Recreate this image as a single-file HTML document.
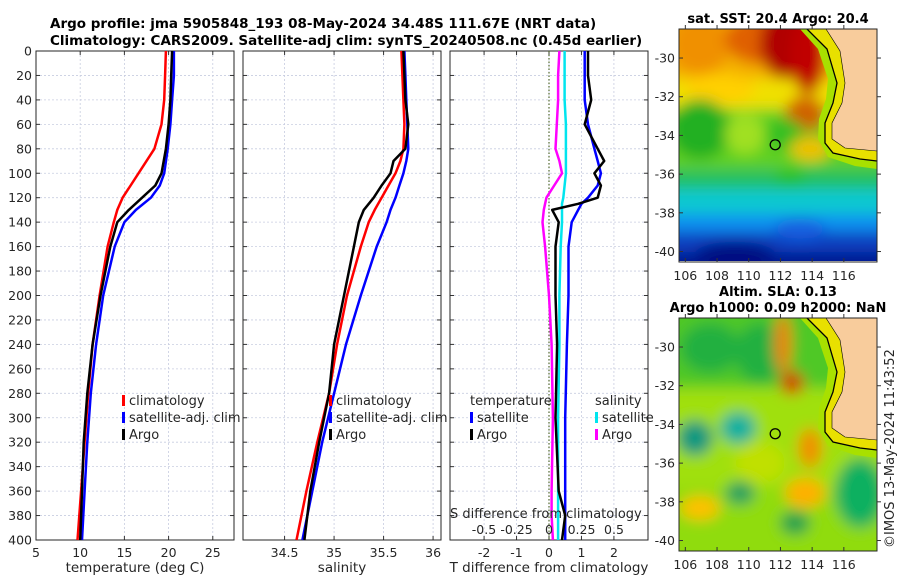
<!DOCTYPE html>
<html><head><meta charset="utf-8">
<style>
body{margin:0;background:#fff;font-family:"DejaVu Sans","Liberation Sans",sans-serif;}
svg{display:block}
text{font-family:"DejaVu Sans","Liberation Sans",sans-serif;fill:#262626}
</style></head>
<body>
<svg id="fig" width="900" height="580" viewBox="0 0 900 580">
<defs>
 <filter id="blur" x="-20%" y="-20%" width="140%" height="140%"><feGaussianBlur stdDeviation="7"/></filter>
 <clipPath id="c1"><rect x="679" y="29" width="198" height="232"/></clipPath>
 <clipPath id="c2"><rect x="679" y="318" width="198" height="233"/></clipPath>
</defs>
<text x="50" y="28" font-size="13.5" font-weight="bold" style="fill:#000">Argo profile: jma 5905848_193 08-May-2024 34.48S 111.67E (NRT data)</text>
<text x="50" y="45" font-size="13.5" font-weight="bold" style="fill:#000">Climatology: CARS2009. Satellite-adj clim: synTS_20240508.nc (0.45d earlier)</text>
<g id="panels"></g>
<g id="maps"></g>
<text transform="translate(894,548) rotate(-90)" font-size="13">©IMOS 13-May-2024 11:43:52</text>
</svg>
<script>
// ---- data (depth in m) ----
const depthsT = [0,20,40,60,80,100,110,120,130,140,160,200,240,280,320,360,400];
const tempClim = [19.7,19.6,19.5,19.2,18.4,16.6,15.7,14.8,14.2,13.8,13.1,12.2,11.4,10.9,10.5,10.1,9.7];
const tempSat  = [20.6,20.6,20.4,20.2,19.9,19.5,19.0,18.0,16.3,15.0,13.9,12.6,11.8,11.2,10.8,10.5,10.2];
const tempArgo = [20.4,20.3,20.2,20.0,19.7,19.2,18.5,17.0,15.5,14.2,13.4,12.3,11.4,10.8,10.4,10.2,10.0];
const depthsS = [0,20,40,60,80,90,100,110,120,130,140,160,200,240,280,320,360,400];
const salClim = [35.68,35.69,35.70,35.71,35.70,35.67,35.62,35.55,35.48,35.41,35.35,35.27,35.13,35.03,34.95,34.83,34.72,34.62];
const salSat  = [35.71,35.72,35.73,35.74,35.75,35.73,35.70,35.66,35.62,35.57,35.53,35.43,35.27,35.12,35.00,34.88,34.78,34.68];
const salArgo = [35.70,35.71,35.72,35.75,35.72,35.60,35.57,35.48,35.40,35.30,35.25,35.20,35.10,35.00,34.95,34.85,34.76,34.70];
const depthsD = [0,20,40,60,80,90,100,110,120,125,130,140,160,200,240,300,360,380,400];
const dTSat  = [1.1,1.1,1.1,1.2,1.4,1.5,1.6,1.5,1.2,1.0,0.9,0.7,0.6,0.6,0.55,0.5,0.5,0.5,0.5];
const dTArgo = [1.2,1.2,1.3,1.1,1.5,1.7,1.4,1.6,1.5,0.9,0.1,0.3,0.2,0.2,0.25,0.2,0.3,0.5,0.4];
const dSSat  = [0.12,0.12,0.12,0.13,0.13,0.13,0.13,0.12,0.11,0.10,0.10,0.10,0.09,0.08,0.08,0.07,0.07,0.07,0.07];
const dSArgo = [0.08,0.07,0.07,0.06,0.05,0.08,0.10,0.04,-0.02,-0.03,-0.04,-0.05,-0.03,0.00,0.02,0.03,0.02,0.02,0.03];
const depthTicks = [0,20,40,60,80,100,120,140,160,180,200,220,240,260,280,300,320,340,360,380,400];
const tTicks = [5,10,15,20,25];
const sTicks = [34.5,35,35.5,36];
const dTTicks = [-2,-1,0,1,2];
const dSTicks = [-0.5,-0.25,0,0.25,0.5];
const dSTickLabels = ['-0.5','-0.25','0','0.25','0.5'];

const NS='http://www.w3.org/2000/svg';
const fig=document.getElementById('panels');
function el(tag,attrs,parent){const e=document.createElementNS(NS,tag);for(const k in attrs)e.setAttribute(k,attrs[k]);(parent||fig).appendChild(e);return e;}
const Y0=51,Y1=540;
const yS=d=>Y0+(Y1-Y0)*d/400;

function panel(name,x0,x1,dmin,dmax,ticks,labels,xlabel,showY){
  const xS=v=>x0+(x1-x0)*(v-dmin)/(dmax-dmin);
  const g=el('g',{});
  
  
  depthTicks.forEach(d=>{const l=el('line',{x1:x0,x2:x1,y1:yS(d),y2:yS(d),stroke:'#c8cde0','stroke-dasharray':'2,2','stroke-width':0.8},g);
    });
  ticks.forEach((t,i)=>{const l=el('line',{x1:xS(t),x2:xS(t),y1:Y0,y2:Y1,stroke:'#c8cde0','stroke-dasharray':'2,2','stroke-width':0.8},g);
    
    el('line',{x1:xS(t),x2:xS(t),y1:Y1,y2:Y1-4,stroke:'#333'},g);
    el('line',{x1:xS(t),x2:xS(t),y1:Y0,y2:Y0+4,stroke:'#333'},g);
    if(labels){const tx=el('text',{x:xS(t),y:Y1+17,'font-size':12.5,'text-anchor':'middle'},g);tx.textContent=labels[i];
      }
  });
  depthTicks.forEach(d=>{el('line',{x1:x0,x2:x0+4,y1:yS(d),y2:yS(d),stroke:'#333'},g);el('line',{x1:x1,x2:x1-4,y1:yS(d),y2:yS(d),stroke:'#333'},g);
    if(showY){const tx=el('text',{x:x0-4,y:yS(d)+4.5,'font-size':12.5,'text-anchor':'end'},g);tx.textContent=d;
      }});
  el('rect',{x:x0,y:Y0,width:x1-x0,height:Y1-Y0,fill:'none',stroke:'#262626','stroke-width':1},g);
  if(xlabel){const tx=el('text',{x:(x0+x1)/2,y:572,'font-size':13.5,'text-anchor':'middle'},g);tx.textContent=xlabel;
    }
  return {g,xS};
}
function line(g,xS,vals,depths,color,name,w){
  const pts=vals.map((v,i)=>xS(v).toFixed(1)+','+yS(depths[i]).toFixed(1)).join(' ');
  const p=el('polyline',{points:pts,fill:'none',stroke:color,'stroke-width':w||2.5,'stroke-linejoin':'round'},g);
  
  
}
function legend(g,x,y,items){
  items.forEach((it,i)=>{
    const yy=y+i*17;
    if(it.c){const r=el('rect',{x:x,y:yy-10,width:3,height:11,fill:it.c},g);
      }
    const t=el('text',{x:x+(it.c?7:0),y:yy,'font-size':13},g);t.textContent=it.t;
    
  });
}
// Panel 1
let p=panel('temperature-panel',36,234,5,27.4,tTicks,tTicks.map(String),'temperature (deg C)',true);
line(p.g,p.xS,tempClim,depthsT,'#ff0000','line-climatology');
line(p.g,p.xS,tempSat,depthsT,'#0000ff','line-satellite-adj');
line(p.g,p.xS,tempArgo,depthsT,'#000000','line-argo');
legend(p.g,122,405,[{c:'#f00',t:'climatology'},{c:'#00f',t:'satellite-adj. clim'},{c:'#000',t:'Argo'}]);
// Panel 2
p=panel('salinity-panel',243,441,34.08,36.08,sTicks,sTicks.map(String),'salinity',false);
line(p.g,p.xS,salClim,depthsS,'#ff0000','line-climatology');
line(p.g,p.xS,salSat,depthsS,'#0000ff','line-satellite-adj');
line(p.g,p.xS,salArgo,depthsS,'#000000','line-argo');
legend(p.g,329,405,[{c:'#f00',t:'climatology'},{c:'#00f',t:'satellite-adj. clim'},{c:'#000',t:'Argo'}]);
// Panel 3
p=panel('difference-panel',450,648,-3.05,3.05,dTTicks,dTTicks.map(String),'T difference from climatology',false);
const xS3=p.xS, xSS=v=>549+v*130;
const z=el('line',{x1:549,x2:549,y1:Y0,y2:Y1,stroke:'#556b2f','stroke-dasharray':'1.5,2','stroke-width':1.2},p.g);

line(p.g,xSS,dSSat,depthsD,'#00e5ee','line-s-satellite');
line(p.g,xSS,dSArgo,depthsD,'#ff00ff','line-s-argo');
line(p.g,xS3,dTSat,depthsD,'#0000ff','line-t-satellite');
line(p.g,xS3,dTArgo,depthsD,'#000000','line-t-argo');
legend(p.g,470,405,[{t:'temperature'},{c:'#00f',t:'satellite'},{c:'#000',t:'Argo'}]);
legend(p.g,595,405,[{t:'salinity'},{c:'#00e5ee',t:'satellite'},{c:'#f0f',t:'Argo'}]);
let st=el('text',{x:450,y:518,'font-size':13},p.g);st.textContent='S difference from climatology';

dSTicks.forEach((t,i)=>{const tx=el('text',{x:xSS(t),y:534,'font-size':12.5,'text-anchor':'middle'},p.g);tx.textContent=dSTickLabels[i];
  });

// ---- maps ----
const mg=document.getElementById('maps');
function m(tag,attrs,parent){return el(tag,attrs,parent||mg);}
const lonTicks=[106,108,110,112,114,116];
const latTicks=[-30,-32,-34,-36,-38,-40];
function map(name,top,title,bands,blobs,clip){
  const g=m('g',{});
  
  
  const lonX=l=>679+(l-105.6)*15.85;
  const latY=a=>top+(-28.5-a)*19.35;
  const cg=m('g',{'clip-path':'url(#'+clip+')'},g);
  const bg2=m('g',{filter:'url(#blur)'},cg);
  bands.forEach(b=>m('rect',{x:660,y:top+b[0],width:240,height:b[1],fill:b[2]},bg2));
  blobs.forEach(b=>m('ellipse',{cx:b[0],cy:b[1]+top,rx:b[2],ry:b[3],fill:b[4]},bg2));
  const o=top;
  m('polygon',{points:`807,${o} 827,${o+20} 837,${o+54} 833,${o+74} 825,${o+94} 825,${o+114} 833,${o+124} 860,${o+130} 877,${o+132} 877,${o+140} 855,${o+137} 828,${o+128} 818,${o+110} 819,${o+90} 826,${o+70} 828,${o+50} 818,${o+20} 800,${o}`,fill:'#a8e000'},cg);
  m('polygon',{points:`807,${o} 827,${o+20} 837,${o+54} 833,${o+74} 825,${o+94} 825,${o+114} 833,${o+124} 860,${o+130} 877,${o+132} 877,${o+122} 845,${o+119} 832,${o+110} 832,${o+94} 842,${o+74} 845,${o+54} 840,${o+22} 826,${o}`,fill:'#e8e000'},cg);
  const land=m('polygon',{points:`826,${o} 840,${o+22} 845,${o+54} 842,${o+74} 832,${o+94} 832,${o+110} 845,${o+119} 877,${o+122} 877,${o} `,fill:'#f8cc9c'},cg);
  
  m('polyline',{points:`807,${o} 827,${o+20} 837,${o+54} 833,${o+74} 825,${o+94} 825,${o+114} 833,${o+124} 860,${o+130} 877,${o+132}`,fill:'none',stroke:'#000','stroke-width':1.3},cg);
  m('polyline',{points:`826,${o} 840,${o+22} 845,${o+54} 842,${o+74} 832,${o+94} 832,${o+110} 845,${o+119} 877,${o+122}`,fill:'none',stroke:'#000','stroke-width':0.6},cg);
  const c=m('circle',{cx:lonX(111.67),cy:latY(-34.48),r:5,fill:'none',stroke:'#000','stroke-width':1.3},g);
  
  m('rect',{x:679,y:top,width:198,height:233,fill:'none',stroke:'#262626'},g);
  lonTicks.forEach(l=>{m('line',{x1:lonX(l),x2:lonX(l),y1:top+233,y2:top+229,stroke:'#333'},g);m('line',{x1:lonX(l),x2:lonX(l),y1:top,y2:top-4,stroke:'#333'},g);
    const t=m('text',{x:lonX(l),y:top+251,'font-size':12.5,'text-anchor':'middle'},g);t.textContent=l;
    });
  latTicks.forEach(a=>{m('line',{x1:679,x2:683,y1:latY(a),y2:latY(a),stroke:'#333'},g);m('line',{x1:877,x2:881,y1:latY(a),y2:latY(a),stroke:'#333'},g);
    const t=m('text',{x:675,y:latY(a)+4.5,'font-size':12.5,'text-anchor':'end'},g);t.textContent=a;
    });
  title.forEach((tt,i)=>{const t=m('text',{x:778,y:top-(title.length-i)*16+10,'font-size':13,'font-weight':'bold','text-anchor':'middle',style:'fill:#000'},g);t.textContent=tt;
    });
}
map('sst-map',29,['sat. SST: 20.4 Argo: 20.4'],
 [[-20,70,'#f4b000'],[50,30,'#f0e000'],[80,60,'#60d020'],[140,20,'#20c060'],[160,25,'#10c8d0'],[185,18,'#1090f0'],[203,20,'#0840c0'],[223,40,'#001890']],
 [[700,15,30,30,'#f09000'],[760,10,35,25,'#e06000'],[785,15,25,35,'#b00000'],[808,25,18,40,'#c00000'],[805,85,20,18,'#d06000'],
 [720,60,35,15,'#ffd000'],[700,100,30,30,'#20b020'],[745,105,20,20,'#a0e020'],[785,105,20,15,'#30c020'],[810,120,20,12,'#f0c000'],
 [790,150,15,10,'#20c030'],[735,225,40,12,'#000c80'],[800,200,25,10,'#1860e0']],'c1');
map('sla-map',318,['Altim. SLA: 0.13','Argo h1000: 0.09 h2000: NaN'],
 [[-20,90,'#50c828'],[70,100,'#a0e010'],[170,90,'#90dc10']],
 [[710,30,30,25,'#20b040'],[760,35,25,30,'#20b040'],[783,25,8,30,'#f08000'],[792,65,12,12,'#d04000'],
 [695,120,18,18,'#109880'],[738,110,18,16,'#10b0a0'],[810,130,12,20,'#f09000'],
 [700,190,20,12,'#ffc000'],[805,175,20,15,'#ffb000'],[860,175,25,35,'#10b060'],[740,175,15,12,'#20a060'],[795,205,15,12,'#20a050'],
 [760,145,25,20,'#c0e000']],'c2');
</script>
</body></html>
